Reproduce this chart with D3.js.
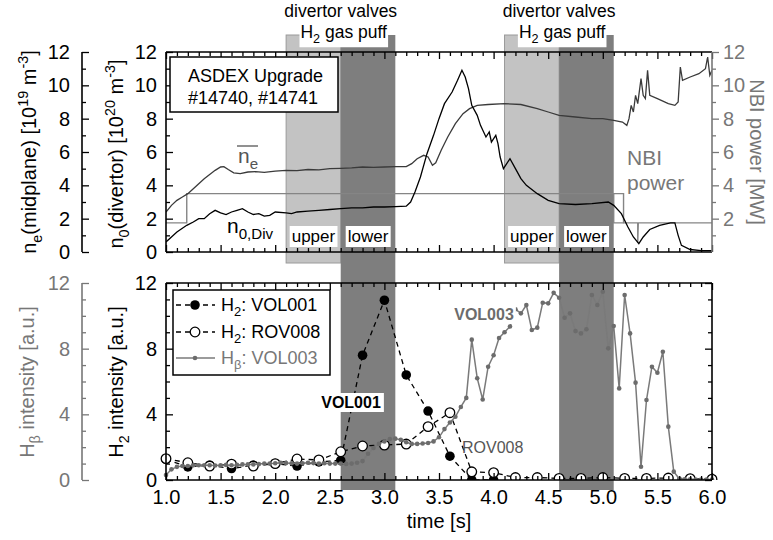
<!DOCTYPE html>
<html>
<head>
<meta charset="utf-8">
<script src="https://cdn.jsdelivr.net/npm/d3@7"></script>
<style>
body { margin: 0; background: #fff; }
svg { font-family: "Liberation Sans", Arial, sans-serif; }
</style>
</head>
<body>
<svg id="chart" width="773" height="540"></svg>
<script>
// Top panel traces, [time (s), value]
var neMidplane = [[1.00,2.4],[1.05,2.8],[1.10,3.1],[1.15,3.3],[1.20,3.5],[1.25,3.8],[1.30,4.1],[1.35,4.4],[1.40,4.65],[1.45,4.9],
	[1.50,5.1],[1.53,5.12],[1.57,4.95],[1.62,4.75],[1.68,4.7],[1.75,4.8],[1.82,4.82],[1.90,4.78],[2.00,4.85],[2.10,4.9],
	[2.20,4.88],[2.30,4.95],[2.40,4.93],[2.50,5.0],[2.60,5.02],[2.70,5.05],[2.80,5.1],[2.90,5.08],[3.00,5.1],[3.10,5.12],
	[3.20,5.12],[3.25,5.3],[3.30,5.6],[3.36,5.8],[3.40,5.7],[3.44,5.2],[3.47,5.35],[3.52,6.1],[3.58,6.9],[3.65,7.7],
	[3.72,8.3],[3.78,8.6],[3.85,8.8],[3.95,8.85],[4.10,8.9],[4.25,8.85],[4.40,8.6],[4.50,8.4],[4.60,8.2],[4.75,8.1],
	[4.90,8.0],[5.00,8.0],[5.10,7.9],[5.18,7.8],[5.22,7.6],[5.24,8.0],[5.26,8.8],[5.28,8.4],[5.30,9.4],[5.32,8.9],
	[5.35,10.4],[5.37,9.4],[5.39,9.2],[5.41,10.9],[5.43,9.4],[5.50,9.2],[5.60,8.9],[5.66,8.8],[5.69,9.0],[5.71,11.1],
	[5.73,10.3],[5.80,10.5],[5.88,10.7],[5.94,11.0],[5.96,11.7],[5.98,10.6],[6.00,10.9]];

var n0Divertor = [[1.00,0.6],[1.05,0.9],[1.10,1.2],[1.19,1.6],[1.25,1.8],[1.30,2.0],[1.35,2.0],[1.40,2.3],[1.45,2.5],[1.50,2.35],
	[1.55,2.25],[1.60,2.4],[1.65,2.5],[1.70,2.6],[1.75,2.4],[1.80,2.25],[1.85,2.3],[1.90,2.15],[1.95,2.2],[2.00,2.4],
	[2.10,2.35],[2.15,2.3],[2.20,2.4],[2.30,2.45],[2.40,2.5],[2.50,2.55],[2.60,2.6],[2.70,2.65],[2.80,2.65],[2.90,2.7],
	[3.00,2.7],[3.10,2.72],[3.20,2.75],[3.24,3.0],[3.28,3.6],[3.33,4.5],[3.39,5.9],[3.45,7.0],[3.50,8.0],[3.55,8.9],
	[3.62,9.6],[3.67,10.3],[3.71,10.9],[3.74,10.5],[3.77,9.8],[3.80,8.8],[3.85,8.2],[3.88,7.6],[3.93,6.9],[3.96,7.2],
	[3.98,6.6],[4.02,7.0],[4.04,6.5],[4.06,5.7],[4.09,5.0],[4.15,5.6],[4.20,5.0],[4.25,4.4],[4.30,4.0],[4.40,3.5],
	[4.50,3.1],[4.60,2.9],[4.75,2.85],[4.90,2.9],[5.05,3.0],[5.10,2.8],[5.17,2.3],[5.23,1.5],[5.28,0.9],[5.33,0.5],
	[5.37,0.9],[5.43,1.35],[5.52,1.6],[5.62,1.75],[5.66,1.75],[5.69,1.0],[5.72,0.4],[5.80,0.15],[5.90,0.08],[6.00,0.08]];

var nbiPower = [[1.00,1.75],[1.19,1.75],[1.19,3.5],[5.19,3.5],[5.19,1.75],[5.32,1.75],[5.32,0.55],[5.325,1.75],[6.00,1.75]];
var nbiPower2 = [[5.10,3.5],[5.10,1.75],[5.19,1.75]];

// Bottom panel, H2 every 0.2 s, H-beta every 0.05 s
var h2Times = [1.0,1.2,1.4,1.6,1.8,2.0,2.2,2.4,2.6,2.8,3.0,3.2,3.4,3.6,3.8,4.0,4.2,4.4,4.6,4.8,5.0,5.2,5.4,5.6,5.8,6.0];
var h2Vol001 = [1.25,0.8,0.9,0.7,0.9,1.0,0.85,1.1,1.2,7.6,10.95,6.4,4.2,1.45,0.0,0.0];
var h2Rov008 = [1.3,1.05,0.85,0.97,0.85,1.0,1.28,1.22,1.72,2.07,2.13,2.19,3.25,4.1,0.5,0.45,0.15,0.15,0.1,0.1,0.15,0.1,0.1,0.12,0.08,0.05];

var hbTimes = [1.00,1.05,1.10,1.15,1.20,1.25,1.30,1.35,1.40,1.45,1.50,1.55,1.60,1.65,1.70,1.75,1.80,1.85,1.90,1.95,
	2.00,2.05,2.10,2.15,2.20,2.25,2.30,2.35,2.40,2.45,2.50,2.55,2.60,2.65,2.70,2.75,2.80,2.85,2.90,2.95,
	3.00,3.05,3.10,3.15,3.20,3.25,3.30,3.35,3.40,3.45,3.50,3.55,3.60,3.65,3.70,3.75,3.80,3.85,3.90,3.95,
	4.00,4.05,4.10,4.15,4.20,4.25,4.30,4.35,4.40,4.45,4.50,4.55,4.60,4.65,4.70,4.75,4.80,4.85,4.90,4.95,
	5.00,5.05,5.10,5.15,5.20,5.25,5.30,5.35,5.40,5.45,5.50,5.55,5.60,5.65,5.70,5.75,5.80,5.85,5.90,5.95,6.00];
var hbVol003 = [0.3,0.65,0.8,0.85,0.85,0.9,0.9,0.9,0.9,0.88,0.9,0.92,0.9,0.92,0.95,0.95,0.95,0.97,1.0,1.0,
	1.02,1.05,1.03,1.02,1.0,1.02,1.05,1.03,1.0,1.02,1.0,1.0,1.0,0.98,1.0,1.05,1.15,1.6,1.95,2.2,
	2.35,2.5,2.52,2.45,2.3,2.2,2.2,2.22,2.25,2.35,2.6,3.1,3.5,3.85,4.45,5.0,8.55,6.2,4.9,6.9,
	7.6,8.65,9.0,9.35,10.4,10.15,10.66,9.14,9.28,10.8,10.76,11.4,11.1,9.88,10.15,9.07,8.93,9.18,11.27,10.66,
	11.47,8.02,9.38,5.58,11.27,8.93,5.93,0.81,4.87,6.9,6.53,7.81,3.25,0.51,0.08,0.05,0.05,0.03,0.03,0.03,0.03];

// Gas puff windows (s)
var puffUpper = [[2.1, 2.6], [4.1, 4.6]];
var puffLower = [[2.6, 3.1], [4.6, 5.1]];

var timeTicks = [1.0, 1.5, 2.0, 2.5, 3.0, 3.5, 4.0, 4.5, 5.0, 5.5, 6.0];
var topTicks = [0, 2, 4, 6, 8, 10, 12];
var nbiTicks = [2, 4, 6, 8, 10, 12];
var bottomTicks = [0, 4, 8, 12];

var GRAY = "#777";
var svg = d3.select("#chart");

var x = d3.scaleLinear().domain([1, 6]).range([166, 712]);
var yTop = d3.scaleLinear().domain([0, 12]).range([252, 52]);
var yBot = d3.scaleLinear().domain([0, 12]).range([480, 283]);

var xMinor = d3.range(10, 61).filter(function(i) { return i % 5 != 0; }).map(function(i) { return i / 10; });
var topMinor = [1, 3, 5, 7, 9, 11];
var bottomMinor = [1, 2, 3, 5, 6, 7, 9, 10, 11];

// Text with sub/superscript parts: [text, "sub"|"sup"|undefined]
var richText = function(sel, parts, size)
{
	var shift = 0;
	parts.forEach(function(p)
	{
		var target = p[1] == "sub" ? size * 0.3 : (p[1] == "sup" ? -size * 0.4 : 0);
		var t = sel.append("tspan").text(p[0]).attr("dy", target - shift);
		if (p[1])
		{
			t.attr("font-size", size * 0.72);
		}
		shift = target;
	});
	return sel;
};

var boxedText = function(parent, tx, ty, parts, size, opts)
{
	opts = opts || {};
	var g = parent.append("g");
	var t = g.append("text")
		.attr("x", tx).attr("y", ty)
		.attr("font-size", size)
		.attr("text-anchor", opts.anchor || "middle")
		.attr("font-weight", opts.weight || "normal")
		.attr("fill", opts.color || "#000");
	richText(t, parts, size);
	var b = t.node().getBBox();
	var pad = opts.pad === undefined ? 2 : opts.pad;
	g.insert("rect", "text")
		.attr("x", b.x - pad).attr("y", b.y - 1)
		.attr("width", b.width + 2 * pad).attr("height", b.height + 2)
		.attr("fill", "#fff");
	return g;
};

var addTicks = function(axis, transform, color)
{
	var g = svg.append("g").attr("transform", transform).call(axis);
	g.attr("font-family", null).attr("font-size", 20);
	g.select(".domain").remove();
	g.selectAll("line").attr("stroke", color).attr("stroke-width", 1.3);
	g.selectAll("text").attr("fill", color);
	return g;
};

var axisSet = function(maker, scale, transform, major, minor, size, labels, color, pad, fmt)
{
	addTicks(maker(scale).tickValues(minor).tickSize(size * 4 / 7).tickFormat(""), transform, color);
	addTicks(maker(scale).tickValues(major).tickSize(size).tickPadding(pad)
		.tickFormat(labels ? (fmt || d3.format("d")) : ""), transform, color);
};

var hline = function(x1, x2, y, color)
{
	svg.append("line").attr("x1", x1).attr("x2", x2).attr("y1", y).attr("y2", y)
		.attr("stroke", color).attr("stroke-width", 1.6);
};

var vline = function(xv, y1, y2, color)
{
	svg.append("line").attr("x1", xv).attr("x2", xv).attr("y1", y1).attr("y2", y2)
		.attr("stroke", color).attr("stroke-width", 1.6);
};

// Gas puff bands
var bandTop = 35;
puffUpper.forEach(function(b)
{
	svg.append("rect")
		.attr("x", x(b[0])).attr("y", bandTop)
		.attr("width", x(b[1]) - x(b[0])).attr("height", 263 - bandTop)
		.attr("fill", "#c3c3c3").attr("stroke", "#9a9a9a").attr("stroke-width", 1);
});
puffLower.forEach(function(b)
{
	svg.append("rect")
		.attr("x", x(b[0])).attr("y", bandTop)
		.attr("width", x(b[1]) - x(b[0])).attr("height", 490 - bandTop)
		.attr("fill", "#7e7e7e");
});

// Clip regions
var defs = svg.append("defs");
defs.append("clipPath").attr("id", "clipTop").append("rect")
	.attr("x", x(1)).attr("y", yTop(12)).attr("width", x(6) - x(1)).attr("height", yTop(0) - yTop(12));
defs.append("clipPath").attr("id", "clipBot").append("rect")
	.attr("x", x(1) - 20).attr("y", yBot(12) - 10).attr("width", x(6) - x(1) + 40).attr("height", yBot(0) - yBot(12) + 10);

// Top panel traces
var topLine = d3.line().x(function(d) { return x(d[0]); }).y(function(d) { return yTop(d[1]); });
var gTop = svg.append("g").attr("clip-path", "url(#clipTop)");
gTop.append("path").datum(nbiPower).attr("d", topLine).attr("fill", "none").attr("stroke", "#858585").attr("stroke-width", 1.4);
gTop.append("path").datum(nbiPower2).attr("d", topLine).attr("fill", "none").attr("stroke", "#858585").attr("stroke-width", 1.4);
gTop.append("path").datum(neMidplane).attr("d", topLine).attr("fill", "none").attr("stroke", "#3a3a3a").attr("stroke-width", 1.3);
gTop.append("path").datum(n0Divertor).attr("d", topLine).attr("fill", "none").attr("stroke", "#000").attr("stroke-width", 1.3);

// Bottom panel series
var gBot = svg.append("g").attr("clip-path", "url(#clipBot)");
var vol001 = h2Vol001.map(function(v, i) { return [h2Times[i], v]; });
var rov008 = h2Rov008.map(function(v, i) { return [h2Times[i], v]; });
var vol003 = hbVol003.map(function(v, i) { return [hbTimes[i], v]; });
var botLine = d3.line().x(function(d) { return x(d[0]); }).y(function(d) { return yBot(d[1]); });

gBot.append("path").datum(vol001).attr("d", botLine).attr("fill", "none")
	.attr("stroke", "#000").attr("stroke-width", 1.3).attr("stroke-dasharray", "5,4");
gBot.selectAll("circle.vol001").data(vol001).enter().append("circle")
	.attr("class", "vol001")
	.attr("cx", function(d) { return x(d[0]); }).attr("cy", function(d) { return yBot(d[1]); })
	.attr("r", 4.8).attr("fill", "#000");

gBot.append("path").datum(rov008).attr("d", botLine).attr("fill", "none")
	.attr("stroke", "#000").attr("stroke-width", 1.3).attr("stroke-dasharray", "5,4");
gBot.selectAll("circle.rov008").data(rov008).enter().append("circle")
	.attr("class", "rov008")
	.attr("cx", function(d) { return x(d[0]); }).attr("cy", function(d) { return yBot(d[1]); })
	.attr("r", 4.8).attr("fill", "#fff").attr("stroke", "#000").attr("stroke-width", 1.3);

gBot.append("path").datum(vol003).attr("d", botLine).attr("fill", "none")
	.attr("stroke", "#7a7a7a").attr("stroke-width", 1.5);
gBot.selectAll("circle.vol003").data(vol003).enter().append("circle")
	.attr("class", "vol003")
	.attr("cx", function(d) { return x(d[0]); }).attr("cy", function(d) { return yBot(d[1]); })
	.attr("r", 2.3).attr("fill", "#6c6c6c");

// Top panel axes
axisSet(d3.axisTop, x, "translate(0," + yTop(12) + ")", timeTicks, xMinor, -7, false, "#000", 4);
axisSet(d3.axisBottom, x, "translate(0," + yTop(0) + ")", timeTicks, xMinor, -7, false, "#000", 4);
axisSet(d3.axisLeft, yTop, "translate(" + x(1) + ",0)", topTicks, topMinor, -7, true, "#000", 9);
axisSet(d3.axisLeft, yTop, "translate(82,0)", topTicks, topMinor, -7, true, "#000", 12);
axisSet(d3.axisRight, yTop, "translate(" + x(6) + ",0)", nbiTicks, topMinor, 7, true, GRAY, 4);
hline(x(1), x(6), yTop(12), "#000");
hline(x(1), x(6), yTop(0), "#000");
vline(x(1), yTop(0), yTop(12), "#000");
vline(x(6), yTop(0), yTop(12), GRAY);
vline(82, yTop(0), yTop(12), "#000");

// Bottom panel axes
axisSet(d3.axisTop, x, "translate(0," + yBot(12) + ")", timeTicks, xMinor, -7, false, "#000", 4);
axisSet(d3.axisBottom, x, "translate(0," + yBot(0) + ")", timeTicks, xMinor, -7, true, "#000", 10, d3.format(".1f"));
axisSet(d3.axisLeft, yBot, "translate(" + x(1) + ",0)", bottomTicks, bottomMinor, -7, true, "#000", 9);
axisSet(d3.axisRight, yBot, "translate(" + x(6) + ",0)", bottomTicks, bottomMinor, -7, false, "#000", 4);
axisSet(d3.axisLeft, yBot, "translate(82,0)", bottomTicks, bottomMinor, -7, true, GRAY, 12);
hline(x(1), x(6), yBot(12), "#000");
hline(x(1), x(6), yBot(0), "#000");
vline(x(1), yBot(0), yBot(12), "#000");
vline(x(6), yBot(0), yBot(12), "#000");
vline(82, yBot(0), yBot(12), GRAY);

// Axis titles
var rotated = function(tx, ty, angle, parts, color)
{
	var t = svg.append("text")
		.attr("transform", "translate(" + tx + "," + ty + ") rotate(" + angle + ")")
		.attr("text-anchor", "middle").attr("font-size", 20).attr("fill", color);
	richText(t, parts, 20);
};
rotated(36, 152, -90, [["n"], ["e", "sub"], ["(midplane) [10"], ["19", "sup"], [" m"], ["-3", "sup"], ["]"]], "#000");
rotated(123, 154, -90, [["n"], ["0", "sub"], ["(divertor) [10"], ["20", "sup"], [" m"], ["-3", "sup"], ["]"]], "#000");
rotated(750, 152, 90, [["NBI power [MW]"]], GRAY);
rotated(34, 382, -90, [["H"], ["\u03b2", "sub"], [" intensity [a.u.]"]], GRAY);
rotated(123, 382, -90, [["H"], ["2", "sub"], [" intensity [a.u.]"]], "#000");
svg.append("text").attr("x", (x(1) + x(6)) / 2).attr("y", 528)
	.attr("text-anchor", "middle").attr("font-size", 20).text("time [s]");

// Gas puff labels
puffUpper.forEach(function(b, i)
{
	var cx = (x(b[0]) + x(puffLower[i][1])) / 2;
	svg.append("text").attr("x", cx).attr("y", 17).attr("text-anchor", "middle")
		.attr("font-size", 17.5).text("divertor valves");
	boxedText(svg, cx + 3, 38, [["H"], ["2", "sub"], [" gas puff"]], 17.5, { pad: 1 });
	boxedText(svg, (x(b[0]) + x(b[1])) / 2, 242, [["upper"]], 17);
	boxedText(svg, (x(puffLower[i][0]) + x(puffLower[i][1])) / 2, 242, [["lower"]], 17);
});

// Shot box
svg.append("rect").attr("x", 170).attr("y", 57).attr("width", 168).attr("height", 55)
	.attr("fill", "#fff").attr("stroke", "#000").attr("stroke-width", 1.5);
svg.append("text").attr("x", 188).attr("y", 82).attr("font-size", 18).text("ASDEX Upgrade");
svg.append("text").attr("x", 188).attr("y", 104).attr("font-size", 18).text("#14740, #14741");

// Trace labels, top panel
richText(svg.append("text").attr("x", 238).attr("y", 163).attr("font-size", 21).attr("fill", "#555"),
	[["n"], ["e", "sub"]], 21);
svg.append("line").attr("x1", 237).attr("x2", 258).attr("y1", 146).attr("y2", 146)
	.attr("stroke", "#555").attr("stroke-width", 1.3);
richText(svg.append("text").attr("x", 227).attr("y", 233).attr("font-size", 21),
	[["n"], ["0,Div", "sub"]], 21);
svg.append("text").attr("x", 627).attr("y", 165).attr("font-size", 21).attr("fill", GRAY).text("NBI");
svg.append("text").attr("x", 627).attr("y", 190).attr("font-size", 21).attr("fill", GRAY).text("power");

// Trace labels, bottom panel
boxedText(svg, 351, 408, [["VOL001"]], 16, { weight: "bold", pad: 3 });
boxedText(svg, 484, 320, [["VOL003"]], 16, { weight: "bold", color: "#6c6c6c", pad: 2 });
svg.append("text").attr("x", 462).attr("y", 453).attr("font-size", 16).attr("fill", "#555").text("ROV008");

// Legend
svg.append("rect").attr("x", 173).attr("y", 290).attr("width", 157).attr("height", 85)
	.attr("fill", "#fff").attr("stroke", "#000").attr("stroke-width", 1.5);
var legendItems = [
	{ y: 305, dash: "5,4", color: "#000", marker: "filled", parts: [["H"], ["2", "sub"], [": VOL001"]] },
	{ y: 332, dash: "5,4", color: "#000", marker: "open", parts: [["H"], ["2", "sub"], [": ROV008"]] },
	{ y: 358, dash: null, color: "#7a7a7a", marker: "dot", parts: [["H"], ["\u03b2", "sub"], [": VOL003"]] }
];
legendItems.forEach(function(item)
{
	svg.append("line").attr("x1", 176).attr("x2", 215).attr("y1", item.y).attr("y2", item.y)
		.attr("stroke", item.color).attr("stroke-width", 1.3).attr("stroke-dasharray", item.dash);
	var c = svg.append("circle").attr("cx", 195).attr("cy", item.y);
	if (item.marker == "filled")
	{
		c.attr("r", 4.8).attr("fill", "#000");
	}
	else if (item.marker == "open")
	{
		c.attr("r", 4.8).attr("fill", "#fff").attr("stroke", "#000").attr("stroke-width", 1.3);
	}
	else
	{
		c.attr("r", 2.3).attr("fill", "#6c6c6c");
	}
	richText(svg.append("text").attr("x", 221).attr("y", item.y + 6).attr("font-size", 18)
		.attr("fill", item.marker == "dot" ? GRAY : "#000"), item.parts, 18);
});
</script>
</body>
</html>
